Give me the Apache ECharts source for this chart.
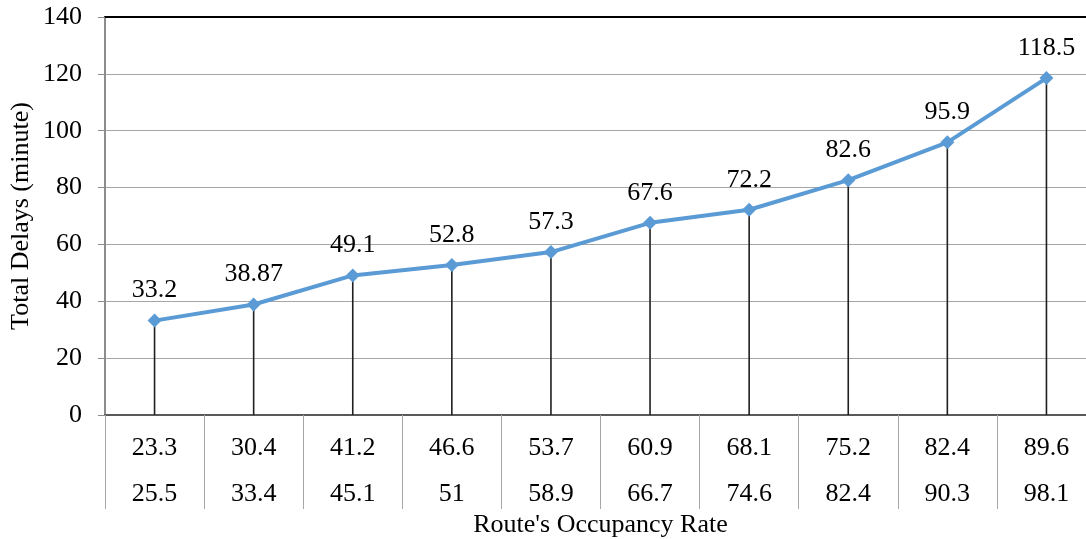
<!DOCTYPE html>
<html>
<head>
<meta charset="utf-8">
<style>
  html, body { margin: 0; padding: 0; background: #fff; }
  #chart { width: 1086px; height: 539px; }
</style>
<script src="https://cdn.jsdelivr.net/npm/echarts@6/dist/echarts.min.js"></script>
</head>
<body>
<div id="chart"></div>
<script>
// Route occupancy rate bands (lower / upper) and total delays per band
const rateLow = ['23.3', '30.4', '41.2', '46.6', '53.7', '60.9', '68.1', '75.2', '82.4', '89.6'];
const rateHigh = ['25.5', '33.4', '45.1', '51', '58.9', '66.7', '74.6', '82.4', '90.3', '98.1'];
const totalDelays = [33.2, 38.87, 49.1, 52.8, 57.3, 67.6, 72.2, 82.6, 95.9, 118.5];
const yTicks = { min: 0, max: 140, step: 20 };

const categories = rateLow.map((v, i) => v + '\n' + rateHigh[i]);
const font = 'Liberation Serif, Times New Roman, serif';

const chart = echarts.init(document.getElementById('chart'), null, { renderer: 'canvas' });
chart.setOption({
  animation: false,
  backgroundColor: '#fff',
  grid: {
    left: 105, right: -10, top: 17, bottom: 124,
    containLabel: false,
    outerBoundsMode: 'none'
  },
  xAxis: [
    {
      type: 'category',
      data: categories,
      boundaryGap: true,
      name: "Route's Occupancy Rate",
      nameLocation: 'middle',
      nameGap: 97,
      nameMoveOverlap: false,
      nameTextStyle: { fontFamily: font, fontSize: 26, color: '#000', verticalAlign: 'top' },
      axisLine: { show: true, lineStyle: { color: '#595959', width: 2 } },
      axisTick: { show: true, length: 94, lineStyle: { color: '#a6a6a6', width: 1 } },
      axisLabel: {
        fontFamily: font, fontSize: 26, color: '#000',
        lineHeight: 46, margin: 10
      },
      splitLine: { show: false }
    },
    {
      // dark frame line along the top of the plot
      type: 'category',
      data: categories,
      position: 'top',
      axisLine: { show: true, lineStyle: { color: '#000', width: 2 } },
      axisTick: { show: false },
      axisLabel: { show: false },
      splitLine: { show: false }
    }
  ],
  yAxis: {
    type: 'value',
    min: yTicks.min,
    max: yTicks.max,
    interval: yTicks.step,
    name: 'Total Delays (minute)',
    nameLocation: 'middle',
    nameGap: 71,
    nameMoveOverlap: false,
    nameTextStyle: { fontFamily: font, fontSize: 26, color: '#000' },
    axisLine: { show: true, lineStyle: { color: '#8c8c8c', width: 2 } },
    axisTick: { show: true, length: 7, lineStyle: { color: '#8c8c8c' } },
    axisLabel: { fontFamily: font, fontSize: 26, color: '#000', margin: 23 },
    splitLine: { show: true, lineStyle: { color: '#a6a6a6', width: 1 } }
  },
  series: [
    {
      // drop lines from each point down to the axis
      type: 'bar',
      data: totalDelays,
      barWidth: 1.6,
      itemStyle: { color: '#1f1f1f' },
      silent: true,
      z: 1
    },
    {
      type: 'line',
      data: totalDelays,
      symbol: 'diamond',
      symbolSize: 14,
      lineStyle: { color: '#5B9BD5', width: 4 },
      itemStyle: { color: '#5B9BD5' },
      label: {
        show: true,
        position: 'top',
        distance: 10,
        fontFamily: font,
        fontSize: 26,
        color: '#000'
      },
      z: 3
    }
  ]
});
</script>
</body>
</html>
